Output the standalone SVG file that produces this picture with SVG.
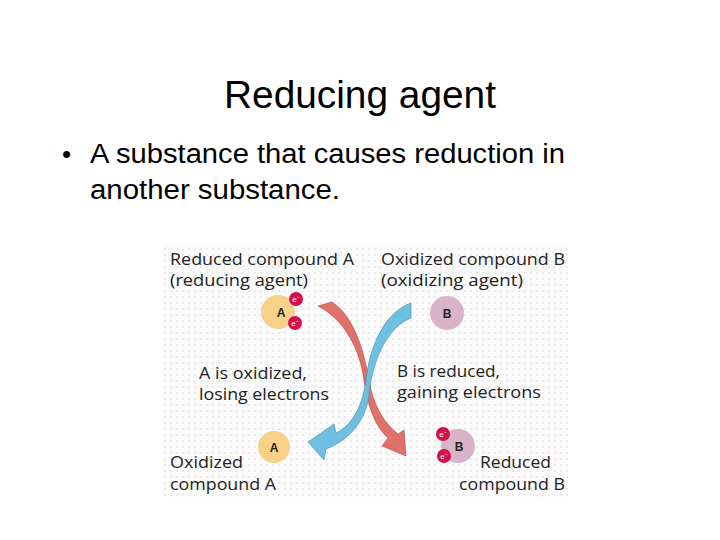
<svg xmlns="http://www.w3.org/2000/svg" width="720" height="540" viewBox="0 0 720 540">
<defs>
<pattern id="dots" width="6" height="6" patternUnits="userSpaceOnUse"><rect width="6" height="6" fill="#fbfbfb"/><circle cx="3" cy="3" r="0.7" fill="#cfcfcf"/></pattern>
<style>
.t{font-family:"Liberation Sans",Arial,sans-serif;fill:#000}
.l{font-family:"Open Sans","Liberation Sans",sans-serif;font-size:15.5px;fill:#222}
.m{font-family:"Liberation Sans",Arial,sans-serif;font-size:12px;font-weight:bold;fill:#222;text-anchor:middle}
.e{font-family:"Liberation Sans",Arial,sans-serif;font-size:8px;fill:#fff;text-anchor:middle}
.ca{fill:#f7d08a}.cb{fill:#d9b4c9}.el{fill:#d4104a}
</style>
</defs>
<rect width="720" height="540" fill="#fff"/>
<text class="t" x="360" y="108" font-size="38" text-anchor="middle" textLength="272" lengthAdjust="spacingAndGlyphs">Reducing agent</text>
<text class="t" x="62" y="163" font-size="26">•</text>
<text class="t" x="90" y="163" font-size="27" textLength="475" lengthAdjust="spacingAndGlyphs">A substance that causes reduction in</text>
<text class="t" x="90" y="199" font-size="27" textLength="250" lengthAdjust="spacingAndGlyphs">another substance.</text>
<rect x="163" y="245" width="405" height="252" fill="url(#dots)"/>
<g id="connectors">
<path d="M318,306 C345,320 360,350 364,380 C368,410 377,428 388,438 L382,446 L406,456 L404,430 L398,434 C384,423 373,405 369,380 C363,345 352,315 332,302 Z" fill="#e0716a" stroke="#b04a44" stroke-width="0.6"/>
<path d="M411,303 C385,312 370,345 366,380 C362,410 350,426 336,433 L334,424 L308,442 L324,460 L326,449 C350,440 366,420 369,395 C373,355 390,326 411,318 Z" fill="#6fc0e0" stroke="#3a8ab0" stroke-width="0.6"/>
</g>
<g id="nodeA1"><circle class="ca" cx="278" cy="312" r="17"/><text class="m" x="281" y="317">A</text>
<circle class="el" cx="296" cy="299" r="7"/><text class="e" x="296" y="302">e⁻</text>
<circle class="el" cx="295" cy="323" r="7"/><text class="e" x="295" y="326">e⁻</text></g>
<g id="nodeB1"><circle class="cb" cx="447" cy="313" r="17"/><text class="m" x="447" y="318">B</text></g>
<g id="nodeA2"><circle class="ca" cx="274" cy="447" r="16"/><text class="m" x="274" y="452">A</text></g>
<g id="nodeB2"><circle class="cb" cx="458" cy="446" r="17"/><text class="m" x="459" y="451">B</text>
<circle class="el" cx="443" cy="434" r="7"/><text class="e" x="443" y="437">e⁻</text>
<circle class="el" cx="444" cy="456" r="7"/><text class="e" x="444" y="459">e⁻</text></g>
<g id="labels">
<text class="l" x="170" y="265" textLength="184" lengthAdjust="spacingAndGlyphs">Reduced compound A</text>
<text class="l" x="170" y="286" textLength="138" lengthAdjust="spacingAndGlyphs">(reducing agent)</text>
<text class="l" x="381" y="265" textLength="184" lengthAdjust="spacingAndGlyphs">Oxidized compound B</text>
<text class="l" x="381" y="286" textLength="142" lengthAdjust="spacingAndGlyphs">(oxidizing agent)</text>
<text class="l" x="199" y="379" textLength="108" lengthAdjust="spacingAndGlyphs">A is oxidized,</text>
<text class="l" x="199" y="400" textLength="130" lengthAdjust="spacingAndGlyphs">losing electrons</text>
<text class="l" x="397" y="377" textLength="103" lengthAdjust="spacingAndGlyphs">B is reduced,</text>
<text class="l" x="397" y="398" textLength="144" lengthAdjust="spacingAndGlyphs">gaining electrons</text>
<text class="l" x="170" y="468" textLength="73" lengthAdjust="spacingAndGlyphs">Oxidized</text>
<text class="l" x="170" y="490" textLength="106" lengthAdjust="spacingAndGlyphs">compound A</text>
<text class="l" x="480" y="468" textLength="71" lengthAdjust="spacingAndGlyphs">Reduced</text>
<text class="l" x="459" y="490" textLength="106" lengthAdjust="spacingAndGlyphs">compound B</text>
</g>
</svg>
